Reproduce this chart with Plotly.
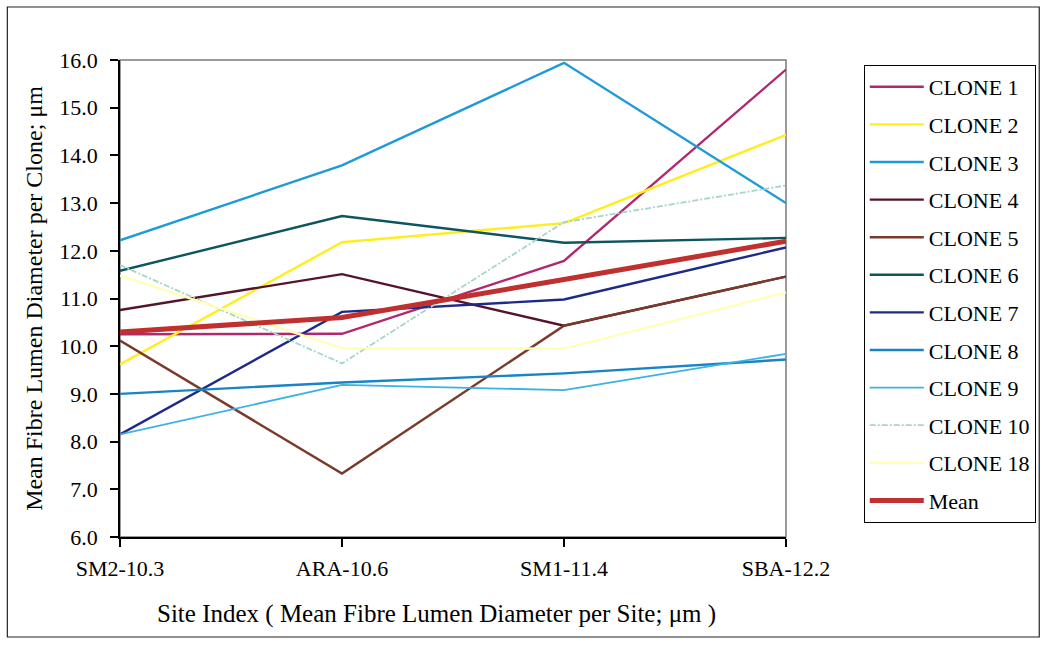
import plotly.graph_objects as go

sites = ["SM2-10.3", "ARA-10.6", "SM1-11.4", "SBA-12.2"]
x_pos = [0, 1, 2, 3]

clone_names = ["CLONE 1", "CLONE 2", "CLONE 3", "CLONE 4", "CLONE 5", "CLONE 6",
               "CLONE 7", "CLONE 8", "CLONE 9", "CLONE 10", "CLONE 18", "Mean"]

clone_1 = [10.25, 10.26, 11.79, 15.80]
clone_2 = [9.62, 12.18, 12.58, 14.43]
clone_3 = [12.22, 13.79, 15.94, 13.00]
clone_4 = [10.76, 11.51, 10.43, 11.46]
clone_5 = [10.12, 7.33, 10.43, 11.46]
clone_6 = [11.58, 12.73, 12.17, 12.27]
clone_7 = [8.15, 10.72, 10.98, 12.07]
clone_8 = [9.00, 9.24, 9.43, 9.72]
clone_9 = [8.15, 9.19, 9.08, 9.84]
clone_10 = [11.70, 9.64, 12.60, 13.37]
clone_18 = [11.48, 9.96, 9.95, 11.13]
mean = [10.3, 10.6, 11.4, 12.2]

series = [clone_1, clone_2, clone_3, clone_4, clone_5, clone_6,
          clone_7, clone_8, clone_9, clone_10, clone_18, mean]
colors = ["#B02870", "#FFEE1E", "#1E9AD6", "#55142E", "#7A3A2A", "#0E5560",
          "#1E2A8A", "#1884C6", "#3CB2E2", "#A6D6C6", "#FFFFB8", "#C0302E"]
widths = [2.4, 2.4, 2.4, 2.4, 2.4, 2.4, 2.4, 2.4, 1.8, 1.8, 2.4, 5]
dashes = ["solid"] * 9 + ["6px,2px,2px,2px", "solid", "solid"]

y_ticks = [6, 7, 8, 9, 10, 11, 12, 13, 14, 15, 16]

x_title = "Site Index ( Mean Fibre Lumen Diameter per Site; \u03bcm )"
y_title = "Mean Fibre Lumen Diameter per Clone; \u03bcm"

FONT = "Liberation Serif"

fig = go.Figure()
for i, (name, vals) in enumerate(zip(clone_names, series)):
    fig.add_trace(go.Scatter(
        x=x_pos, y=vals, mode="lines", name=name,
        line=dict(color=colors[i], width=widths[i], dash=dashes[i]),
        legendgroup=name,
    ))

# plot area border (top/right, grey)
fig.add_shape(type="rect", xref="paper", yref="paper", x0=0, x1=1, y0=0, y1=1,
              line=dict(color="#7A7A7A", width=1.5), layer="below")
# outer chart border
fig.add_shape(type="rect", xref="paper", yref="paper",
              x0=(7 - 120) / 668, x1=(1042 - 120) / 668,
              y0=(537 - 637) / 477, y1=(537 - 7) / 477,
              line=dict(color="#222222", width=1.2), layer="below")

# x-axis title (centred on the chart area as in the original)
fig.add_annotation(text=x_title, xref="paper", yref="paper",
                   x=(437 - 120) / 668, y=(537 - 614) / 477,
                   xanchor="center", yanchor="middle", showarrow=False,
                   font=dict(family=FONT, size=25, color="black"))

fig.update_layout(
    width=1048, height=655,
    margin=dict(l=120, r=260, t=60, b=118),
    paper_bgcolor="white", plot_bgcolor="white",
    font=dict(family=FONT, color="black", size=22),
    showlegend=True,
    legend=dict(
        x=(866 - 120) / 668, y=(537 - 65) / 477, xanchor="left", yanchor="top",
        bordercolor="black", borderwidth=1, bgcolor="white",
        font=dict(family=FONT, size=22, color="black"),
        tracegroupgap=6, traceorder="grouped", itemwidth=54,
        maxheight=620,
    ),
    xaxis=dict(
        range=[0, 3], tickvals=x_pos, ticktext=sites,
        showline=True, linecolor="black", linewidth=1.5,
        ticks="outside", ticklen=8, tickcolor="black", tickwidth=1.5,
        showgrid=False, zeroline=False, ticklabelstandoff=3,
        tickfont=dict(family=FONT, size=22),
    ),
    yaxis=dict(
        range=[6, 16], tickvals=y_ticks, tickformat=".1f",
        showline=True, linecolor="black", linewidth=1.5,
        ticks="outside", ticklen=8, tickcolor="black", tickwidth=1.5,
        showgrid=False, zeroline=False, ticklabelstandoff=8,
        tickfont=dict(family=FONT, size=22),
        title=dict(text=y_title, font=dict(family=FONT, size=24), standoff=10),
    ),
    xaxis2=dict(
        overlaying="x", anchor="y", range=[0, 3], tickvals=x_pos,
        ticks="inside", ticklen=8, tickcolor="black", tickwidth=1.5,
        showticklabels=False, showgrid=False, zeroline=False, showline=False,
    ),
    yaxis2=dict(
        overlaying="y", anchor="x", range=[6, 16], tickvals=y_ticks,
        ticks="inside", ticklen=8, tickcolor="black", tickwidth=1.5,
        showticklabels=False, showgrid=False, zeroline=False, showline=False,
    ),
)

fig.write_html("out.html")
